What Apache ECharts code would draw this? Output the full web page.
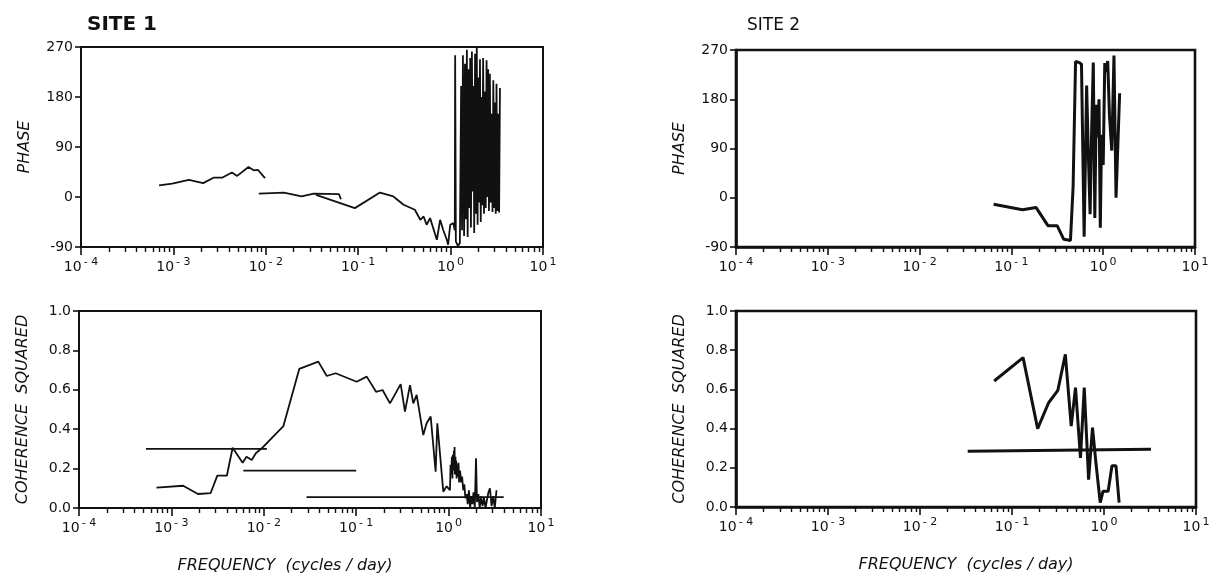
<!DOCTYPE html>
<html>
<head>
<meta charset="utf-8">
<script src="https://cdn.jsdelivr.net/npm/echarts@6/dist/echarts.min.js"></script>
<style>
  html, body { margin: 0; padding: 0; background: #fff; }
  #main { width: 1220px; height: 582px; }
</style>
</head>
<body>
<div id="main"></div>
<script>
// site 1 - phase, three overlapping frequency bands
var s1PhaseAFreq = [0.0007, 0.00097, 0.00147, 0.0021, 0.00275, 0.0034, 0.0043, 0.0049, 0.0065, 0.0074, 0.0082, 0.0098];
var s1PhaseA = [21, 24, 31, 25, 35, 35, 44, 38, 54, 48, 49, 34];
var s1PhaseBFreq = [0.0084, 0.0157, 0.0244, 0.033, 0.062, 0.065];
var s1PhaseB = [6, 8, 1, 6, 5, -4];
var s1PhaseCFreq = [0.035, 0.092, 0.172, 0.24, 0.31, 0.41, 0.47, 0.51, 0.55, 0.60, 0.71, 0.77, 0.83, 0.91, 0.94, 0.99, 1.07, 1.11, 1.12, 1.14, 1.20, 1.26,
  1.30, 1.33, 1.36, 1.40, 1.43, 1.46, 1.50, 1.53, 1.56, 1.60, 1.63, 1.66, 1.70, 1.74, 1.77, 1.80, 1.84, 1.88, 1.92, 1.96, 2.00, 2.04, 2.08, 2.12,
  2.16, 2.20, 2.25, 2.30, 2.35, 2.40, 2.45, 2.50, 2.55, 2.60, 2.66, 2.72, 2.78, 2.84, 2.90, 2.96, 3.02, 3.08, 3.14, 3.20, 3.28, 3.35, 3.42];
var s1PhaseC = [4, -20, 8, 1, -14, -23, -41, -35, -50, -38, -77, -41, -59, -77, -86, -50, -47, -60, 255, -80, -88, -83,
  200, -60, 255, -70, 240, -40, 265, -72, 230, -20, 250, -55, 262, 10, 200, -65, 258, -30, 270, -50, 215, -10, 248, -45,
  180, -15, 250, -30, 190, -20, 246, 0, 230, -25, 222, -10, 150, -27, 210, -20, 170, -30, 204, -25, 150, -28, 196];

// site 1 - coherence squared
var s1CohFreq = [0.00069, 0.00134, 0.00194, 0.00266, 0.00314, 0.00398, 0.0046, 0.0059, 0.0065, 0.0074, 0.0082, 0.0095, 0.0163, 0.0242, 0.0389,
  0.048, 0.060, 0.101, 0.13, 0.164, 0.193, 0.232, 0.303, 0.337, 0.382, 0.415, 0.451, 0.532, 0.578, 0.64, 0.724, 0.755, 0.876, 0.953,
  1.035, 1.05, 1.07, 1.085, 1.10, 1.11, 1.125, 1.14, 1.15, 1.16, 1.17, 1.185, 1.20, 1.21, 1.22, 1.24, 1.26, 1.28, 1.30, 1.33, 1.37,
  1.40, 1.44, 1.48, 1.52, 1.57, 1.61, 1.66, 1.71, 1.76, 1.81, 1.86, 1.92, 1.98, 2.03, 2.10, 2.17, 2.25, 2.33, 2.42, 2.51, 2.60,
  2.70, 2.80, 2.92, 3.04, 3.16, 3.30];
var s1Coh = [0.103, 0.113, 0.071, 0.076, 0.164, 0.164, 0.306, 0.23, 0.26, 0.244, 0.278, 0.303, 0.416, 0.706, 0.743,
  0.67, 0.684, 0.641, 0.667, 0.59, 0.599, 0.531, 0.629, 0.489, 0.624, 0.531, 0.574, 0.37, 0.43, 0.464, 0.184, 0.43, 0.083, 0.11,
  0.09, 0.22, 0.17, 0.26, 0.15, 0.27, 0.19, 0.29, 0.2, 0.31, 0.17, 0.26, 0.18, 0.24, 0.15, 0.22, 0.16, 0.23, 0.13, 0.19, 0.13,
  0.16, 0.09, 0.12, 0.05, 0.07, 0.02, 0.09, 0.0, 0.06, 0.02, 0.08, 0.0, 0.252, 0.03, 0.07, 0.0, 0.06, 0.01, 0.05, 0.0, 0.04,
  0.08, 0.1, 0.01, 0.06, 0.0, 0.09];
// significance levels for the three bands
var s1SigFreq = [[0.00053, 0.0108], [0.006, 0.1], [0.029, 3.95]];
var s1SigLevel = [0.3, 0.19, 0.055];

// site 2
var s2PhaseFreq = [0.064, 0.132, 0.186, 0.25, 0.315, 0.372, 0.44, 0.47, 0.50, 0.55, 0.58, 0.62, 0.66, 0.69, 0.72, 0.75,
  0.78, 0.81, 0.84, 0.87, 0.90, 0.93, 0.96, 1.0, 1.04, 1.08, 1.12, 1.17, 1.24, 1.31, 1.38, 1.51];
var s2Phase = [-12, -22, -18, -51, -51, -76, -78, 20, 249, 247, 244, -71, 205, 75, -30, 130,
  247, -37, 170, 110, 180, -55, 115, 60, 246, 230, 250, 150, 86, 260, 0, 191];
var s2CohFreq = [0.064, 0.132, 0.19, 0.25, 0.315, 0.38, 0.44, 0.49, 0.555, 0.61, 0.68, 0.75, 0.82, 0.91, 0.975, 1.11, 1.22, 1.35, 1.46];
var s2Coh = [0.643, 0.762, 0.40, 0.532, 0.595, 0.779, 0.413, 0.609, 0.25, 0.609, 0.14, 0.405, 0.218, 0.022, 0.08, 0.08, 0.21, 0.21, 0.022];
var s2SigFreq = [0.033, 3.24];
var s2SigLevel = [0.285, 0.295];

var FONT = 'DejaVu Sans';
var myChart = echarts.init(document.getElementById('main'));

function zip(xs, ys) {
  return xs.map(function (x, i) { return [x, ys[i]]; });
}

// minor tick positions 2..9 x 10^k
var minorVals = [];
for (var k = -4; k < 1; k++) {
  for (var m = 2; m < 10; m++) minorVals.push(m * Math.pow(10, k));
}

var grids = [
  { left: 81, top: 47, width: 462, height: 200, border: 2 },
  { left: 79, top: 311, width: 462, height: 197, border: 2 },
  { left: 736, top: 50, width: 459, height: 197, border: 2.6 },
  { left: 736, top: 311, width: 460, height: 196, border: 2.6 }
];

var xAxes = [], yAxes = [];
grids.forEach(function (g, i) {
  var bottom = (i % 2 == 1);
  xAxes.push({
    type: 'log', logBase: 10, gridIndex: i, min: 0.0001, max: 10, position: 'bottom',
    axisLine: { onZero: false, lineStyle: { color: '#111', width: g.border } },
    axisTick: { length: 8, lineStyle: { color: '#111', width: 1.6 } },
    splitLine: { show: false },
    axisLabel: {
      margin: 10,
      formatter: function (v) {
        var e = Math.round(Math.log(v) / Math.LN10);
        return '{b|10}{e|' + (e < 0 ? '- ' + (-e) : e) + '}';
      },
      rich: {
        b: { fontFamily: FONT, fontSize: 14, color: '#111' },
        e: { fontFamily: FONT, fontSize: 11, color: '#111', padding: [0, 0, 10, 2] }
      }
    },
    name: bottom ? 'FREQUENCY  (cycles / day)' : '',
    nameLocation: 'middle',
    nameGap: 50,
    nameTextStyle: {
      fontFamily: FONT, fontStyle: 'italic', fontSize: 16, color: '#111',
      padding: i == 1 ? [0, 50, 0, 0] : [0, 0, 0, 0]
    }
  });
  xAxes.push({
    type: 'log', logBase: 10, gridIndex: i, min: 0.0001, max: 10, position: 'bottom',
    axisLine: { show: false, onZero: false },
    axisLabel: { show: false },
    splitLine: { show: false },
    axisTick: { customValues: minorVals, length: 5, lineStyle: { color: '#111', width: 1.4 } }
  });
  yAxes.push({
    type: 'value', gridIndex: i,
    min: bottom ? 0 : -90, max: bottom ? 1 : 270, interval: bottom ? 0.2 : 90,
    axisLine: { show: true, onZero: false, lineStyle: { color: '#111', width: g.border } },
    axisTick: { show: true, length: 6, lineStyle: { color: '#111', width: 1.6 } },
    splitLine: { show: false },
    axisLabel: {
      fontFamily: FONT, fontSize: 14, color: '#111', margin: 8,
      formatter: function (v) { return bottom ? v.toFixed(1) : String(v); }
    },
    name: bottom ? 'COHERENCE  SQUARED' : 'PHASE',
    nameLocation: 'middle',
    nameRotate: 90,
    nameGap: 48,
    nameTextStyle: { fontFamily: FONT, fontStyle: 'italic', fontSize: 16, color: '#111' }
  });
});

function line(grid, data, width) {
  return {
    type: 'line', xAxisIndex: grid * 2, yAxisIndex: grid, data: data,
    showSymbol: false, symbol: 'none', animation: false,
    lineStyle: { color: '#111', width: width }
  };
}

var series = [
  line(0, zip(s1PhaseAFreq, s1PhaseA), 1.8),
  line(0, zip(s1PhaseBFreq, s1PhaseB), 1.8),
  line(0, zip(s1PhaseCFreq, s1PhaseC), 1.8),
  line(1, zip(s1CohFreq, s1Coh), 1.8),
  line(2, zip(s2PhaseFreq, s2Phase), 3),
  line(3, zip(s2CohFreq, s2Coh), 3),
  line(3, zip(s2SigFreq, s2SigLevel), 3)
];
s1SigFreq.forEach(function (band, j) {
  series.push(line(1, zip(band, [s1SigLevel[j], s1SigLevel[j]]), 1.8));
});

option = {
  backgroundColor: '#fff',
  animation: false,
  title: [
    { text: 'SITE 1', left: 82, top: 10, textStyle: { fontFamily: FONT, fontSize: 20, fontWeight: 'bold', color: '#111' } },
    { text: 'SITE 2', left: 742, top: 12, textStyle: { fontFamily: FONT, fontSize: 17, fontWeight: 'normal', color: '#111' } }
  ],
  grid: grids.map(function (g) {
    return { left: g.left, top: g.top, width: g.width, height: g.height, show: true, borderColor: '#111', borderWidth: g.border, backgroundColor: 'transparent' };
  }),
  xAxis: xAxes,
  yAxis: yAxes,
  series: series
};
myChart.setOption(option);
</script>
</body>
</html>
